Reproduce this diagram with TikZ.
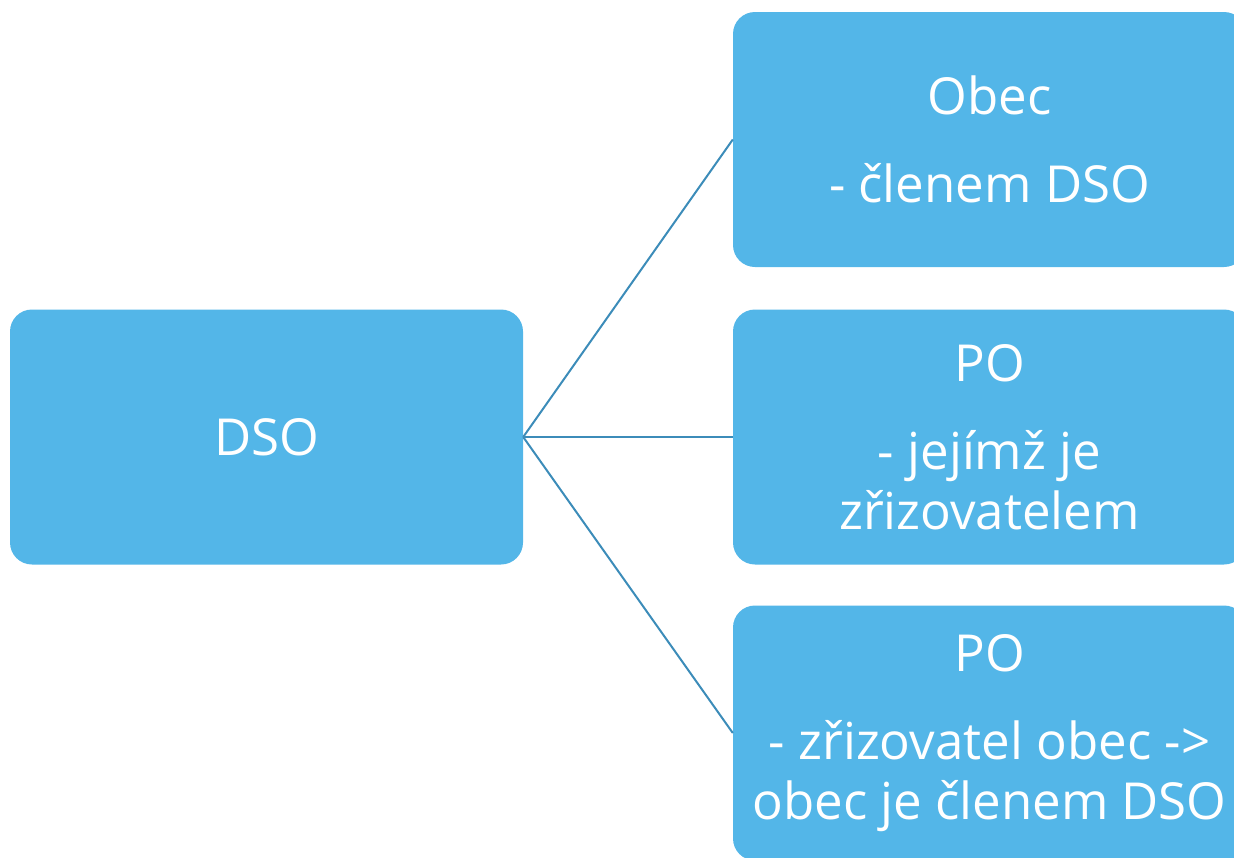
\documentclass[tikz,border=0pt]{standalone}
\usepackage{fontspec}
\setmainfont{Open Sans}
\usetikzlibrary{positioning}
\definecolor{boxfill}{RGB}{83,182,232}
\definecolor{linkline}{RGB}{60,140,185}
\tikzset{box/.style={fill=boxfill,rounded corners=22pt,minimum width=513pt,minimum height=255pt,align=center,text=white,font=\fontsize{51}{60}\selectfont,inner sep=0pt},
         link/.style={draw=linkline,line width=2pt}
}

\begin{document}
\begin{tikzpicture}[x=1pt,y=1pt,yscale=-1,xscale=1]
\useasboundingbox (0,0) rectangle (1234,857);
\clip (0,0) rectangle (1234,857);

% Boxes
\node[box] (dso) at (266.5,437) {DSO};
\node[box] (obec) at (989.5,139.5) {Obec\\[28pt]- členem DSO};
\node[box] (po) at (989.5,437) {PO\\[28pt]- jejímž je\\zřizovatelem};
\node[box] (poobec) at (989.5,733) {PO\\[28pt]- zřizovatel obec ->\\obec je členem DSO};

% Links
\draw[link] (dso.east) -- (obec.west);
\draw[link] (dso.east) -- (po.west);
\draw[link] (dso.east) -- (poobec.west);

\end{tikzpicture}
\end{document}
